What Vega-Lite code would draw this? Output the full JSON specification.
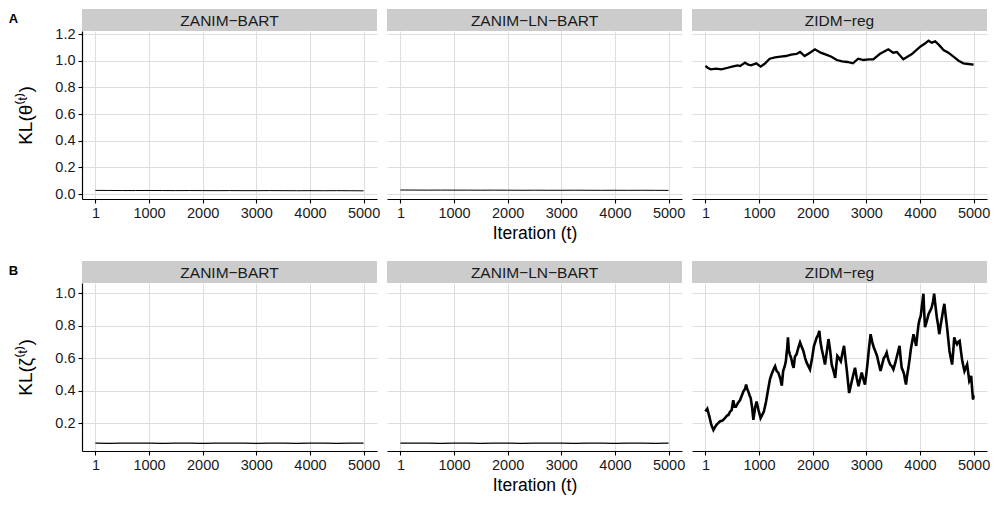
{
 "$schema": "https://vega.github.io/schema/vega-lite/v6.json",
 "padding": {"left": 8, "top": 9, "right": 5, "bottom": 5},
 "background": "white",
 "config": {
  "font": "Liberation Sans",
  "view": {"stroke": null},
  "axis": {"labelFont": "Liberation Sans", "labelFontSize": 14.5, "labelColor": "#1a1a1a", "titleFont": "Liberation Sans", "titleFontSize": 17.5, "titleFontWeight": "normal", "titleColor": "#000000", "domainColor": "#000000", "domainWidth": 1.2, "tickColor": "#000000", "tickWidth": 1.1, "tickSize": 4, "labelPadding": 3, "titlePadding": 5, "gridColor": "#DEDEDE", "gridWidth": 1.1},
  "title": {"font": "Liberation Sans"}
 },
 "datasets": {
  "theta_zb": [{"iter":1,"kl":0.027},{"iter":250,"kl":0.0265},{"iter":500,"kl":0.026},{"iter":750,"kl":0.026},{"iter":1000,"kl":0.0265},{"iter":1250,"kl":0.026},{"iter":1500,"kl":0.0255},{"iter":1750,"kl":0.026},{"iter":2000,"kl":0.0255},{"iter":2250,"kl":0.025},{"iter":2500,"kl":0.0255},{"iter":2750,"kl":0.025},{"iter":3000,"kl":0.025},{"iter":3250,"kl":0.0255},{"iter":3500,"kl":0.025},{"iter":3750,"kl":0.0245},{"iter":4000,"kl":0.025},{"iter":4250,"kl":0.0245},{"iter":4500,"kl":0.025},{"iter":4750,"kl":0.0245},{"iter":5000,"kl":0.024}],
  "theta_zl": [{"iter":1,"kl":0.03},{"iter":250,"kl":0.0295},{"iter":500,"kl":0.029},{"iter":750,"kl":0.0295},{"iter":1000,"kl":0.029},{"iter":1250,"kl":0.029},{"iter":1500,"kl":0.0285},{"iter":1750,"kl":0.029},{"iter":2000,"kl":0.0285},{"iter":2250,"kl":0.028},{"iter":2500,"kl":0.0285},{"iter":2750,"kl":0.028},{"iter":3000,"kl":0.028},{"iter":3250,"kl":0.0285},{"iter":3500,"kl":0.028},{"iter":3750,"kl":0.0275},{"iter":4000,"kl":0.028},{"iter":4250,"kl":0.0275},{"iter":4500,"kl":0.028},{"iter":4750,"kl":0.0275},{"iter":5000,"kl":0.027}],
  "theta_zidm": [{"iter":1,"kl":0.96},{"iter":50,"kl":0.945},{"iter":100,"kl":0.935},{"iter":200,"kl":0.94},{"iter":300,"kl":0.935},{"iter":400,"kl":0.945},{"iter":500,"kl":0.955},{"iter":600,"kl":0.965},{"iter":650,"kl":0.96},{"iter":740,"kl":0.985},{"iter":800,"kl":0.97},{"iter":850,"kl":0.965},{"iter":950,"kl":0.98},{"iter":1030,"kl":0.955},{"iter":1100,"kl":0.975},{"iter":1200,"kl":1.015},{"iter":1300,"kl":1.025},{"iter":1400,"kl":1.03},{"iter":1500,"kl":1.035},{"iter":1600,"kl":1.045},{"iter":1700,"kl":1.05},{"iter":1765,"kl":1.065},{"iter":1850,"kl":1.035},{"iter":1950,"kl":1.06},{"iter":2043,"kl":1.085},{"iter":2150,"kl":1.06},{"iter":2250,"kl":1.045},{"iter":2350,"kl":1.03},{"iter":2450,"kl":1.005},{"iter":2550,"kl":0.995},{"iter":2650,"kl":0.99},{"iter":2750,"kl":0.98},{"iter":2850,"kl":1.015},{"iter":2950,"kl":1.005},{"iter":3050,"kl":1.01},{"iter":3130,"kl":1.01},{"iter":3250,"kl":1.05},{"iter":3410,"kl":1.085},{"iter":3500,"kl":1.06},{"iter":3570,"kl":1.065},{"iter":3690,"kl":1.01},{"iter":3850,"kl":1.05},{"iter":4005,"kl":1.105},{"iter":4100,"kl":1.13},{"iter":4160,"kl":1.15},{"iter":4220,"kl":1.135},{"iter":4285,"kl":1.145},{"iter":4350,"kl":1.12},{"iter":4440,"kl":1.08},{"iter":4530,"kl":1.06},{"iter":4625,"kl":1.03},{"iter":4720,"kl":1.0},{"iter":4810,"kl":0.98},{"iter":4900,"kl":0.975},{"iter":5000,"kl":0.97}],
  "zeta_zb": [{"iter":1,"kl":0.077},{"iter":250,"kl":0.0755},{"iter":500,"kl":0.0765},{"iter":750,"kl":0.076},{"iter":1000,"kl":0.077},{"iter":1250,"kl":0.0755},{"iter":1500,"kl":0.0765},{"iter":1750,"kl":0.076},{"iter":2000,"kl":0.0755},{"iter":2250,"kl":0.077},{"iter":2500,"kl":0.076},{"iter":2750,"kl":0.0765},{"iter":3000,"kl":0.0755},{"iter":3250,"kl":0.076},{"iter":3500,"kl":0.077},{"iter":3750,"kl":0.0755},{"iter":4000,"kl":0.076},{"iter":4250,"kl":0.0765},{"iter":4500,"kl":0.0755},{"iter":4750,"kl":0.076},{"iter":5000,"kl":0.0765}],
  "zeta_zl": [{"iter":1,"kl":0.0765},{"iter":250,"kl":0.076},{"iter":500,"kl":0.077},{"iter":750,"kl":0.0755},{"iter":1000,"kl":0.076},{"iter":1250,"kl":0.0765},{"iter":1500,"kl":0.0755},{"iter":1750,"kl":0.077},{"iter":2000,"kl":0.076},{"iter":2250,"kl":0.0755},{"iter":2500,"kl":0.0765},{"iter":2750,"kl":0.076},{"iter":3000,"kl":0.077},{"iter":3250,"kl":0.0755},{"iter":3500,"kl":0.076},{"iter":3750,"kl":0.0765},{"iter":4000,"kl":0.0755},{"iter":4250,"kl":0.076},{"iter":4500,"kl":0.077},{"iter":4750,"kl":0.0755},{"iter":5000,"kl":0.076}],
  "zeta_zidm": [{"iter":1,"kl":0.271},{"iter":36,"kl":0.288},{"iter":75,"kl":0.24},{"iter":110,"kl":0.19},{"iter":150,"kl":0.157},{"iter":180,"kl":0.175},{"iter":210,"kl":0.19},{"iter":240,"kl":0.2},{"iter":270,"kl":0.21},{"iter":320,"kl":0.215},{"iter":365,"kl":0.23},{"iter":400,"kl":0.245},{"iter":430,"kl":0.25},{"iter":460,"kl":0.27},{"iter":490,"kl":0.28},{"iter":520,"kl":0.34},{"iter":545,"kl":0.3},{"iter":570,"kl":0.3},{"iter":610,"kl":0.325},{"iter":645,"kl":0.34},{"iter":680,"kl":0.37},{"iter":710,"kl":0.395},{"iter":740,"kl":0.41},{"iter":760,"kl":0.437},{"iter":780,"kl":0.41},{"iter":800,"kl":0.395},{"iter":825,"kl":0.37},{"iter":845,"kl":0.354},{"iter":870,"kl":0.3},{"iter":895,"kl":0.22},{"iter":930,"kl":0.3},{"iter":955,"kl":0.333},{"iter":990,"kl":0.28},{"iter":1030,"kl":0.23},{"iter":1060,"kl":0.25},{"iter":1090,"kl":0.27},{"iter":1130,"kl":0.33},{"iter":1175,"kl":0.416},{"iter":1205,"kl":0.47},{"iter":1235,"kl":0.5},{"iter":1270,"kl":0.53},{"iter":1300,"kl":0.55},{"iter":1330,"kl":0.52},{"iter":1360,"kl":0.51},{"iter":1400,"kl":0.47},{"iter":1425,"kl":0.43},{"iter":1450,"kl":0.52},{"iter":1480,"kl":0.55},{"iter":1500,"kl":0.58},{"iter":1525,"kl":0.66},{"iter":1540,"kl":0.727},{"iter":1555,"kl":0.65},{"iter":1575,"kl":0.623},{"iter":1600,"kl":0.6},{"iter":1625,"kl":0.56},{"iter":1645,"kl":0.54},{"iter":1670,"kl":0.61},{"iter":1700,"kl":0.623},{"iter":1730,"kl":0.66},{"iter":1765,"kl":0.696},{"iter":1795,"kl":0.67},{"iter":1827,"kl":0.644},{"iter":1860,"kl":0.6},{"iter":1890,"kl":0.57},{"iter":1920,"kl":0.55},{"iter":1950,"kl":0.53},{"iter":1990,"kl":0.6},{"iter":2025,"kl":0.675},{"iter":2050,"kl":0.7},{"iter":2075,"kl":0.727},{"iter":2100,"kl":0.74},{"iter":2125,"kl":0.768},{"iter":2145,"kl":0.7},{"iter":2170,"kl":0.654},{"iter":2200,"kl":0.61},{"iter":2230,"kl":0.56},{"iter":2260,"kl":0.63},{"iter":2295,"kl":0.717},{"iter":2325,"kl":0.65},{"iter":2355,"kl":0.56},{"iter":2390,"kl":0.52},{"iter":2420,"kl":0.478},{"iter":2440,"kl":0.55},{"iter":2460,"kl":0.613},{"iter":2490,"kl":0.6},{"iter":2525,"kl":0.58},{"iter":2555,"kl":0.63},{"iter":2585,"kl":0.675},{"iter":2610,"kl":0.6},{"iter":2635,"kl":0.53},{"iter":2660,"kl":0.45},{"iter":2680,"kl":0.385},{"iter":2705,"kl":0.42},{"iter":2730,"kl":0.458},{"iter":2760,"kl":0.5},{"iter":2790,"kl":0.54},{"iter":2820,"kl":0.48},{"iter":2855,"kl":0.426},{"iter":2885,"kl":0.47},{"iter":2915,"kl":0.51},{"iter":2945,"kl":0.47},{"iter":2975,"kl":0.437},{"iter":3000,"kl":0.5},{"iter":3020,"kl":0.56},{"iter":3050,"kl":0.66},{"iter":3080,"kl":0.747},{"iter":3110,"kl":0.7},{"iter":3140,"kl":0.665},{"iter":3170,"kl":0.64},{"iter":3200,"kl":0.613},{"iter":3230,"kl":0.57},{"iter":3265,"kl":0.52},{"iter":3295,"kl":0.56},{"iter":3325,"kl":0.6},{"iter":3350,"kl":0.61},{"iter":3380,"kl":0.634},{"iter":3410,"kl":0.59},{"iter":3445,"kl":0.56},{"iter":3475,"kl":0.55},{"iter":3505,"kl":0.53},{"iter":3540,"kl":0.57},{"iter":3570,"kl":0.61},{"iter":3620,"kl":0.675},{"iter":3640,"kl":0.6},{"iter":3660,"kl":0.54},{"iter":3685,"kl":0.52},{"iter":3705,"kl":0.5},{"iter":3720,"kl":0.47},{"iter":3740,"kl":0.437},{"iter":3760,"kl":0.49},{"iter":3785,"kl":0.54},{"iter":3810,"kl":0.6},{"iter":3830,"kl":0.654},{"iter":3855,"kl":0.7},{"iter":3880,"kl":0.747},{"iter":3905,"kl":0.71},{"iter":3930,"kl":0.675},{"iter":3950,"kl":0.74},{"iter":3975,"kl":0.81},{"iter":3995,"kl":0.84},{"iter":4015,"kl":0.86},{"iter":4040,"kl":0.93},{"iter":4065,"kl":0.996},{"iter":4080,"kl":0.88},{"iter":4095,"kl":0.79},{"iter":4130,"kl":0.83},{"iter":4160,"kl":0.87},{"iter":4190,"kl":0.89},{"iter":4220,"kl":0.913},{"iter":4245,"kl":0.95},{"iter":4265,"kl":0.996},{"iter":4290,"kl":0.92},{"iter":4315,"kl":0.85},{"iter":4340,"kl":0.8},{"iter":4360,"kl":0.747},{"iter":4385,"kl":0.8},{"iter":4410,"kl":0.85},{"iter":4435,"kl":0.9},{"iter":4455,"kl":0.934},{"iter":4480,"kl":0.86},{"iter":4505,"kl":0.79},{"iter":4530,"kl":0.71},{"iter":4550,"kl":0.644},{"iter":4575,"kl":0.6},{"iter":4600,"kl":0.56},{"iter":4620,"kl":0.64},{"iter":4640,"kl":0.727},{"iter":4665,"kl":0.7},{"iter":4690,"kl":0.685},{"iter":4715,"kl":0.7},{"iter":4740,"kl":0.706},{"iter":4765,"kl":0.64},{"iter":4790,"kl":0.58},{"iter":4810,"kl":0.55},{"iter":4830,"kl":0.52},{"iter":4855,"kl":0.54},{"iter":4880,"kl":0.56},{"iter":4900,"kl":0.51},{"iter":4920,"kl":0.458},{"iter":4940,"kl":0.47},{"iter":4955,"kl":0.49},{"iter":4975,"kl":0.4},{"iter":4990,"kl":0.344},{"iter":5000,"kl":0.37}]
 },
 "spacing": 19,
 "vconcat": [
  {
   "title": {"text": "A", "anchor": "start", "frame": "bounds", "baseline": "top", "offset": -17, "dx": -8, "fontSize": 13, "fontWeight": "bold", "color": "#000000"},
   "spacing": 7,
   "hconcat": [
    {"bounds": "flush", "spacing": 0, "vconcat": [
     {"width": 295, "height": 22, "view": {"fill": "#CCCCCC", "stroke": null}, "data": {"values": [{"label": "ZANIM−BART"}]}, "mark": {"type": "text", "fontSize": 15.5, "color": "#1a1a1a", "baseline": "middle", "dy": 1}, "encoding": {"text": {"field": "label"}}},
     {"width": 295, "height": 168, "data": {"name": "theta_zb"}, "mark": {"type": "line", "color": "#000000", "strokeWidth": 1, "clip": true},
      "encoding": {
       "x": {"field": "iter", "type": "quantitative", "scale": {"domain": [-249, 5250], "nice": false, "zero": false}, "axis": {"values": [1, 1000, 2000, 3000, 4000, 5000], "format": "d", "title": null}},
       "y": {"field": "kl", "type": "quantitative", "scale": {"domain": [-0.0375, 1.2225], "nice": false, "zero": false}, "axis": {"values": [0, 0.2, 0.4, 0.6, 0.8, 1, 1.2], "format": ".1f", "title": "KL(θ⁽ᵗ⁾)", "titleFontSize": 19, "titlePadding": 19}}
      }}
    ]},
    {"bounds": "flush", "spacing": 0, "vconcat": [
     {"width": 295, "height": 22, "view": {"fill": "#CCCCCC", "stroke": null}, "data": {"values": [{"label": "ZANIM−LN−BART"}]}, "mark": {"type": "text", "fontSize": 15.5, "color": "#1a1a1a", "baseline": "middle", "dy": 1}, "encoding": {"text": {"field": "label"}}},
     {"width": 295, "height": 168, "data": {"name": "theta_zl"}, "mark": {"type": "line", "color": "#000000", "strokeWidth": 1, "clip": true},
      "encoding": {
       "x": {"field": "iter", "type": "quantitative", "scale": {"domain": [-249, 5250], "nice": false, "zero": false}, "axis": {"values": [1, 1000, 2000, 3000, 4000, 5000], "format": "d", "title": "Iteration (t)"}},
       "y": {"field": "kl", "type": "quantitative", "scale": {"domain": [-0.0375, 1.2225], "nice": false, "zero": false}, "axis": {"values": [0, 0.2, 0.4, 0.6, 0.8, 1, 1.2], "domain": false, "ticks": false, "labels": false, "title": null}}
      }}
    ]},
    {"bounds": "flush", "spacing": 0, "vconcat": [
     {"width": 295, "height": 22, "view": {"fill": "#CCCCCC", "stroke": null}, "data": {"values": [{"label": "ZIDM−reg"}]}, "mark": {"type": "text", "fontSize": 15.5, "color": "#1a1a1a", "baseline": "middle", "dy": 1}, "encoding": {"text": {"field": "label"}}},
     {"width": 295, "height": 168, "data": {"name": "theta_zidm"}, "mark": {"type": "line", "color": "#000000", "strokeWidth": 2.3, "clip": true},
      "encoding": {
       "x": {"field": "iter", "type": "quantitative", "scale": {"domain": [-249, 5250], "nice": false, "zero": false}, "axis": {"values": [1, 1000, 2000, 3000, 4000, 5000], "format": "d", "title": null}},
       "y": {"field": "kl", "type": "quantitative", "scale": {"domain": [-0.0375, 1.2225], "nice": false, "zero": false}, "axis": {"values": [0, 0.2, 0.4, 0.6, 0.8, 1, 1.2], "domain": false, "ticks": false, "labels": false, "title": null}}
      }}
    ]}
   ]
  },
  {
   "title": {"text": "B", "anchor": "start", "frame": "bounds", "baseline": "top", "offset": -17, "dx": -8, "fontSize": 13, "fontWeight": "bold", "color": "#000000"},
   "spacing": 7,
   "hconcat": [
    {"bounds": "flush", "spacing": 0, "vconcat": [
     {"width": 295, "height": 22, "view": {"fill": "#CCCCCC", "stroke": null}, "data": {"values": [{"label": "ZANIM−BART"}]}, "mark": {"type": "text", "fontSize": 15.5, "color": "#1a1a1a", "baseline": "middle", "dy": 1}, "encoding": {"text": {"field": "label"}}},
     {"width": 295, "height": 168, "data": {"name": "zeta_zb"}, "mark": {"type": "line", "color": "#000000", "strokeWidth": 1.2, "clip": true},
      "encoding": {
       "x": {"field": "iter", "type": "quantitative", "scale": {"domain": [-249, 5250], "nice": false, "zero": false}, "axis": {"values": [1, 1000, 2000, 3000, 4000, 5000], "format": "d", "title": null}},
       "y": {"field": "kl", "type": "quantitative", "scale": {"domain": [0.028, 1.062], "nice": false, "zero": false}, "axis": {"values": [0.2, 0.4, 0.6, 0.8, 1], "format": ".1f", "title": "KL(ζ⁽ᵗ⁾)", "titleFontSize": 19, "titlePadding": 19}}
      }}
    ]},
    {"bounds": "flush", "spacing": 0, "vconcat": [
     {"width": 295, "height": 22, "view": {"fill": "#CCCCCC", "stroke": null}, "data": {"values": [{"label": "ZANIM−LN−BART"}]}, "mark": {"type": "text", "fontSize": 15.5, "color": "#1a1a1a", "baseline": "middle", "dy": 1}, "encoding": {"text": {"field": "label"}}},
     {"width": 295, "height": 168, "data": {"name": "zeta_zl"}, "mark": {"type": "line", "color": "#000000", "strokeWidth": 1.2, "clip": true},
      "encoding": {
       "x": {"field": "iter", "type": "quantitative", "scale": {"domain": [-249, 5250], "nice": false, "zero": false}, "axis": {"values": [1, 1000, 2000, 3000, 4000, 5000], "format": "d", "title": "Iteration (t)"}},
       "y": {"field": "kl", "type": "quantitative", "scale": {"domain": [0.028, 1.062], "nice": false, "zero": false}, "axis": {"values": [0.2, 0.4, 0.6, 0.8, 1], "domain": false, "ticks": false, "labels": false, "title": null}}
      }}
    ]},
    {"bounds": "flush", "spacing": 0, "vconcat": [
     {"width": 295, "height": 22, "view": {"fill": "#CCCCCC", "stroke": null}, "data": {"values": [{"label": "ZIDM−reg"}]}, "mark": {"type": "text", "fontSize": 15.5, "color": "#1a1a1a", "baseline": "middle", "dy": 1}, "encoding": {"text": {"field": "label"}}},
     {"width": 295, "height": 168, "data": {"name": "zeta_zidm"}, "mark": {"type": "line", "color": "#000000", "strokeWidth": 2.6, "clip": true},
      "encoding": {
       "x": {"field": "iter", "type": "quantitative", "scale": {"domain": [-249, 5250], "nice": false, "zero": false}, "axis": {"values": [1, 1000, 2000, 3000, 4000, 5000], "format": "d", "title": null}},
       "y": {"field": "kl", "type": "quantitative", "scale": {"domain": [0.028, 1.062], "nice": false, "zero": false}, "axis": {"values": [0.2, 0.4, 0.6, 0.8, 1], "domain": false, "ticks": false, "labels": false, "title": null}}
      }}
    ]}
   ]
  }
 ]
}
